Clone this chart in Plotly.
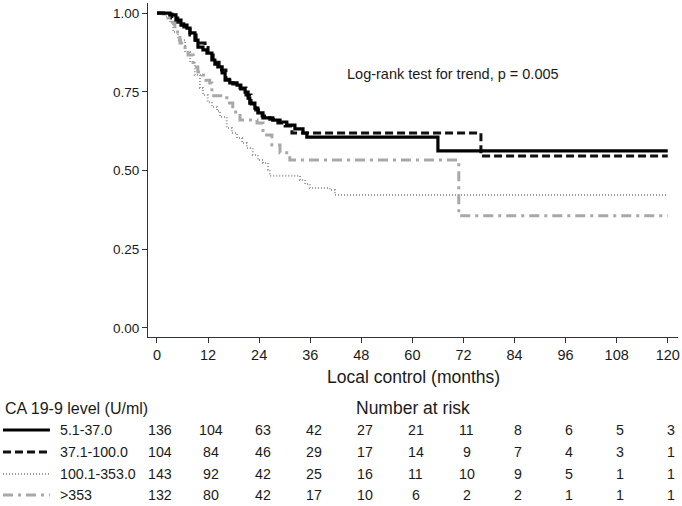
import plotly.graph_objects as go

# ---------------- data ----------------
groups = ["5.1-37.0", "37.1-100.0", "100.1-353.0", ">353"]

t_g1 = [0, 1.9, 3.05, 4.46, 5.64, 7.05, 7.75, 8.92, 9.63, 10.8, 11.74, 12.9, 13.6, 14.3, 15.3, 16.0,
        17.1, 18.8, 19.7, 20.7, 21.4, 21.8, 23.0, 23.7, 24.9, 27.2, 28.9, 30.5, 32.4, 34.3, 35.2, 66.0, 120]
s_g1 = [1.0, 1.0, 0.994, 0.978, 0.962, 0.952, 0.937, 0.914, 0.892, 0.883, 0.873, 0.851, 0.838, 0.829, 0.810, 0.787,
        0.778, 0.771, 0.759, 0.749, 0.730, 0.714, 0.698, 0.683, 0.667, 0.660, 0.654, 0.644, 0.632, 0.619, 0.606, 0.562, 0.562]

t_g2 = [0, 2.3, 3.5, 4.9, 6.3, 7.75, 9.2, 11.3, 12.0, 13.2, 14.6, 16.2, 17.8, 19.5, 20.9, 22.1, 23.2, 24.7,
        26.5, 28.4, 30.1, 31.7, 76.1, 120]
s_g2 = [1.0, 0.997, 0.984, 0.971, 0.956, 0.930, 0.905, 0.898, 0.867, 0.844, 0.819, 0.790, 0.775, 0.762, 0.740,
        0.711, 0.692, 0.673, 0.663, 0.651, 0.641, 0.619, 0.546, 0.546]

t_g3 = [0, 1.9, 3.05, 3.8, 4.9, 6.6, 7.75, 8.9, 10.1, 10.8, 11.9, 12.9, 14.1, 14.8, 16.4, 17.6, 18.8, 20.0,
        21.1, 22.5, 23.7, 24.9, 26.1, 26.5, 33.6, 34.8, 35.9, 40.6, 41.8, 120]
s_g3 = [1.0, 0.990, 0.971, 0.940, 0.914, 0.876, 0.844, 0.803, 0.762, 0.740, 0.717, 0.702, 0.689, 0.670, 0.635,
        0.619, 0.603, 0.587, 0.571, 0.549, 0.533, 0.524, 0.502, 0.483, 0.470, 0.457, 0.444, 0.438, 0.422, 0.422]

t_g4 = [0, 1.4, 2.6, 3.05, 4.2, 5.4, 6.6, 7.3, 8.5, 9.6, 10.6, 11.5, 12.4, 12.9, 16.4, 17.8, 19.5, 23.5, 24.9,
        27.0, 28.9, 31.2, 70.9, 120]
s_g4 = [1.0, 0.997, 0.984, 0.971, 0.940, 0.905, 0.883, 0.867, 0.829, 0.813, 0.803, 0.787, 0.778, 0.737, 0.714,
        0.686, 0.660, 0.651, 0.613, 0.581, 0.556, 0.533, 0.356, 0.356]

risk_times = [0, 12, 24, 36, 48, 60, 72, 84, 96, 108, 120]
risk_g1 = [136, 104, 63, 42, 27, 21, 11, 8, 6, 5, 3]
risk_g2 = [104, 84, 46, 29, 17, 14, 9, 7, 4, 3, 1]
risk_g3 = [143, 92, 42, 25, 16, 11, 10, 9, 5, 1, 1]
risk_g4 = [132, 80, 42, 17, 10, 6, 2, 2, 1, 1, 1]

y_ticks = [0, 0.25, 0.5, 0.75, 1.0]
y_ticktext = ["0.00", "0.25", "0.50", "0.75", "1.00"]

# ---------------- styles ----------------
FONT = "Liberation Sans, Arial, sans-serif"
TXT = "#1a1a1a"
styles = [
    dict(color="#000000", width=3.2, dash="solid"),
    dict(color="#111111", width=3.0, dash="8px,4px"),
    dict(color="#9a9a9a", width=2.0, dash="1px,2px"),
    dict(color="#a8a8a8", width=3.0, dash="10px,5px,3px,5px"),
]

series = [(t_g1, s_g1), (t_g2, s_g2), (t_g3, s_g3), (t_g4, s_g4)]
risks = [risk_g1, risk_g2, risk_g3, risk_g4]

fig = go.Figure()
for idx in [2, 3, 1, 0]:
    t, s = series[idx]
    fig.add_trace(go.Scatter(x=t, y=s, mode="lines", line=dict(shape="hv", **styles[idx]),
                             name=groups[idx], showlegend=False, hoverinfo="skip"))

annotations = []
shapes = []

annotations.append(dict(x=69.5, y=0.806, xref="x", yref="y", text="Log-rank test for trend, p = 0.005",
                        showarrow=False, font=dict(family=FONT, size=14.5, color=TXT), xanchor="center", yanchor="middle"))
annotations.append(dict(x=0.5, y=-0.12, xref="paper", yref="paper", text="Local control (months)",
                        showarrow=False, font=dict(family=FONT, size=17.5, color=TXT), xanchor="center", yanchor="middle"))
annotations.append(dict(x=-0.2736, y=-0.2126, xref="paper", yref="paper", text="CA 19-9 level (U/ml)",
                        showarrow=False, font=dict(family=FONT, size=16, color=TXT), xanchor="left", yanchor="middle"))
annotations.append(dict(x=0.5, y=-0.2126, xref="paper", yref="paper", text="Number at risk",
                        showarrow=False, font=dict(family=FONT, size=17.5, color=TXT), xanchor="center", yanchor="middle"))

row_y = [-0.2784, -0.3443, -0.4102, -0.4731]
for gi in range(4):
    ry = row_y[gi]
    shapes.append(dict(type="line", xref="paper", yref="paper", x0=-0.2736, x1=-0.185, y0=ry, y1=ry,
                       line=dict(color=styles[gi]["color"], width=styles[gi]["width"], dash=styles[gi]["dash"])))
    annotations.append(dict(x=-0.1698, y=ry, xref="paper", yref="paper", text=groups[gi], showarrow=False,
                            font=dict(family=FONT, size=14.2, color=TXT), xanchor="left", yanchor="middle"))
    for tt, n in zip(risk_times, risks[gi]):
        annotations.append(dict(x=tt + 0.8, y=ry, xref="x", yref="paper", text=str(n), showarrow=False,
                                font=dict(family=FONT, size=14.2, color=TXT), xanchor="center", yanchor="middle"))

fig.update_layout(
    width=682, height=506,
    margin=dict(l=148, r=4, t=3, b=169),
    paper_bgcolor="white", plot_bgcolor="white",
    showlegend=False,
    annotations=annotations, shapes=shapes,
    xaxis=dict(range=[-2.11, 122.4], tickvals=risk_times, ticks="outside", ticklen=5, tickcolor="#333",
               showline=True, linecolor="#333", linewidth=1, showgrid=False, zeroline=False,
               tickfont=dict(family=FONT, size=14.5, color=TXT)),
    yaxis=dict(range=[-0.029, 1.032], tickvals=y_ticks, ticktext=y_ticktext, ticks="outside", ticklen=5,
               tickcolor="#333", showline=True, linecolor="#333", linewidth=1, showgrid=False, zeroline=False,
               tickfont=dict(family=FONT, size=13.5, color=TXT)),
)

fig.write_html("out.html", config={"displayModeBar": False},
               post_script="document.body.style.margin='0';document.body.style.overflow='hidden';")
